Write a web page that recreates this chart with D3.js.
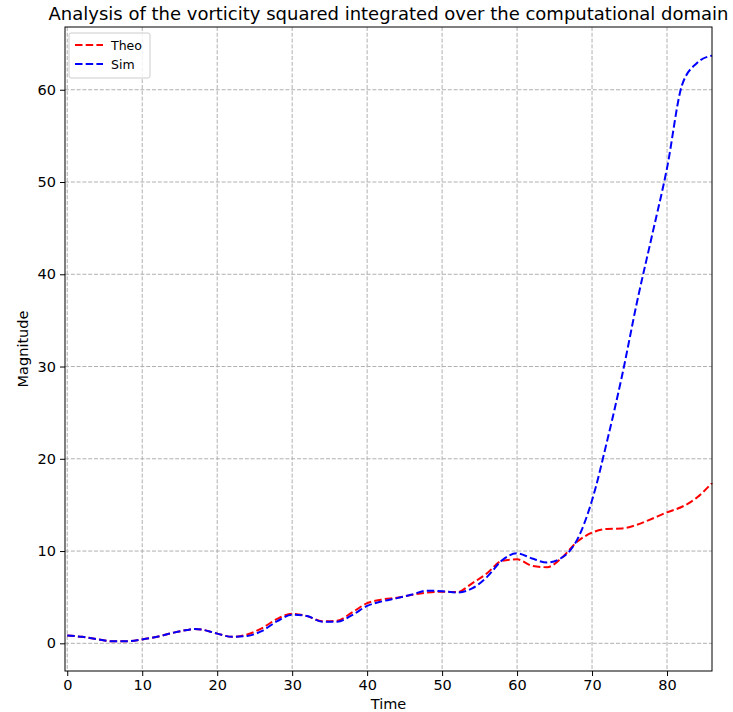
<!DOCTYPE html>
<html>
<head>
<meta charset="utf-8">
<script src="https://cdnjs.cloudflare.com/ajax/libs/d3/7.8.5/d3.min.js"></script>
<style>
  body { margin: 0; background: #fff; }
  svg { font-family: "DejaVu Sans", sans-serif; }
</style>
</head>
<body>
<div id="chart"></div>
<script>
// data
var time = [0, 2, 4, 6, 8, 10, 12, 14, 16, 17, 18, 20, 22, 24, 26, 28, 30, 32, 34, 36, 38, 40, 42,
            44, 46, 48, 50, 52, 54, 56, 58, 60, 62, 64, 66, 68, 70, 72, 74, 76, 78, 80, 82, 84, 86];
var theo = [0.85, 0.7, 0.45, 0.22, 0.22, 0.42, 0.72, 1.12, 1.45, 1.55, 1.48, 1.05, 0.7, 0.95, 1.65, 2.65, 3.2,
            2.95, 2.4, 2.45, 3.35, 4.35, 4.75, 4.95, 5.25, 5.5, 5.6, 5.55, 6.5, 7.6, 8.95, 9.1, 8.4,
            8.25, 9.3, 11.0, 12.0, 12.4, 12.45, 12.85, 13.5, 14.2, 14.8, 15.8, 17.4];
var sim  = [0.85, 0.7, 0.45, 0.22, 0.22, 0.42, 0.72, 1.12, 1.45, 1.55, 1.48, 1.05, 0.7, 0.8, 1.35, 2.4, 3.1,
            2.95, 2.35, 2.35, 3.05, 4.05, 4.55, 4.9, 5.3, 5.7, 5.65, 5.5, 5.95, 7.2, 9.0, 9.75, 9.2,
            8.75, 9.3, 11.2, 15.5, 21.9, 29.0, 37.0, 44.2, 51.5, 60.5, 62.9, 63.7];
var xTicks = [0, 10, 20, 30, 40, 50, 60, 70, 80];
var yTicks = [0, 10, 20, 30, 40, 50, 60];
var seriesNames = ["Theo", "Sim"];
var seriesColors = ["#ff0000", "#0000ff"];

var width = 733, height = 712;
var margin = {left: 65, right: 21, top: 27, bottom: 41};
var iw = width - margin.left - margin.right;
var ih = height - margin.top - margin.bottom;

var svg = d3.select("#chart").append("svg")
    .attr("width", width).attr("height", height);

var x = d3.scaleLinear().domain([-0.3, 86]).range([0, iw]);
var y = d3.scaleLinear().domain([-3.0, 66.8]).range([ih, 0]);

var g = svg.append("g")
    .attr("transform", "translate(" + margin.left + "," + margin.top + ")");

// grid
g.append("g").selectAll("line").data(xTicks).enter().append("line")
    .attr("x1", function(d) { return x(d); }).attr("x2", function(d) { return x(d); })
    .attr("y1", 0).attr("y2", ih)
    .style("stroke", "#b0b0b0").style("stroke-width", 1).style("stroke-dasharray", "4,1.8");
g.append("g").selectAll("line").data(yTicks).enter().append("line")
    .attr("y1", function(d) { return y(d); }).attr("y2", function(d) { return y(d); })
    .attr("x1", 0).attr("x2", iw)
    .style("stroke", "#b0b0b0").style("stroke-width", 1).style("stroke-dasharray", "4,1.8");

// lines
var series = [theo, sim];
var line = d3.line()
    .x(function(d, i) { return x(time[i]); })
    .y(function(d) { return y(d); })
    .curve(d3.curveMonotoneX);

g.selectAll(".series").data(series).enter().append("path")
    .attr("class", "series")
    .attr("d", line)
    .style("fill", "none")
    .style("stroke", function(d, i) { return seriesColors[i]; })
    .style("stroke-width", 2)
    .style("stroke-dasharray", "7.5,3.2");

// axes
var xAxis = g.append("g").attr("transform", "translate(0," + ih + ")")
    .call(d3.axisBottom(x).tickValues(xTicks).tickSize(5).tickPadding(4));
var yAxis = g.append("g")
    .call(d3.axisLeft(y).tickValues(yTicks).tickSize(5).tickPadding(4));
[xAxis, yAxis].forEach(function(a) {
  a.select(".domain").remove();
  a.selectAll("text").style("font-size", "14.5px").style("fill", "#000")
    .style("font-family", "DejaVu Sans");
  a.selectAll("line").style("stroke", "#000").style("stroke-width", 1);
});

// frame
g.append("rect").attr("width", iw).attr("height", ih)
    .style("fill", "none").style("stroke", "#000").style("stroke-width", 1);

// title and labels
svg.append("text")
    .attr("x", margin.left + iw / 2).attr("y", 20)
    .attr("text-anchor", "middle")
    .style("font-size", "18px")
    .text("Analysis of the vorticity squared integrated over the computational domain");
svg.append("text")
    .attr("x", margin.left + iw / 2).attr("y", 709)
    .attr("text-anchor", "middle")
    .style("font-size", "14.5px")
    .text("Time");
svg.append("text")
    .attr("transform", "translate(28," + (margin.top + ih / 2) + ") rotate(-90)")
    .attr("text-anchor", "middle")
    .style("font-size", "14.5px")
    .text("Magnitude");

// legend
var lg = g.append("g").attr("transform", "translate(4,6)");
lg.append("rect").attr("width", 81).attr("height", 45).attr("rx", 2)
    .style("fill", "#fff").style("fill-opacity", 0.8)
    .style("stroke", "#cccccc").style("stroke-width", 1);
var item = lg.selectAll(".item").data(seriesNames).enter().append("g")
    .attr("transform", function(d, i) { return "translate(0," + (12 + i * 19) + ")"; });
item.append("line")
    .attr("x1", 6).attr("x2", 34).attr("y1", 0).attr("y2", 0)
    .style("stroke", function(d, i) { return seriesColors[i]; })
    .style("stroke-width", 2)
    .style("stroke-dasharray", "7.5,3.2");
item.append("text")
    .attr("x", 42).attr("y", 4.5)
    .style("font-size", "12.5px")
    .text(function(d) { return d; });
</script>
</body>
</html>
